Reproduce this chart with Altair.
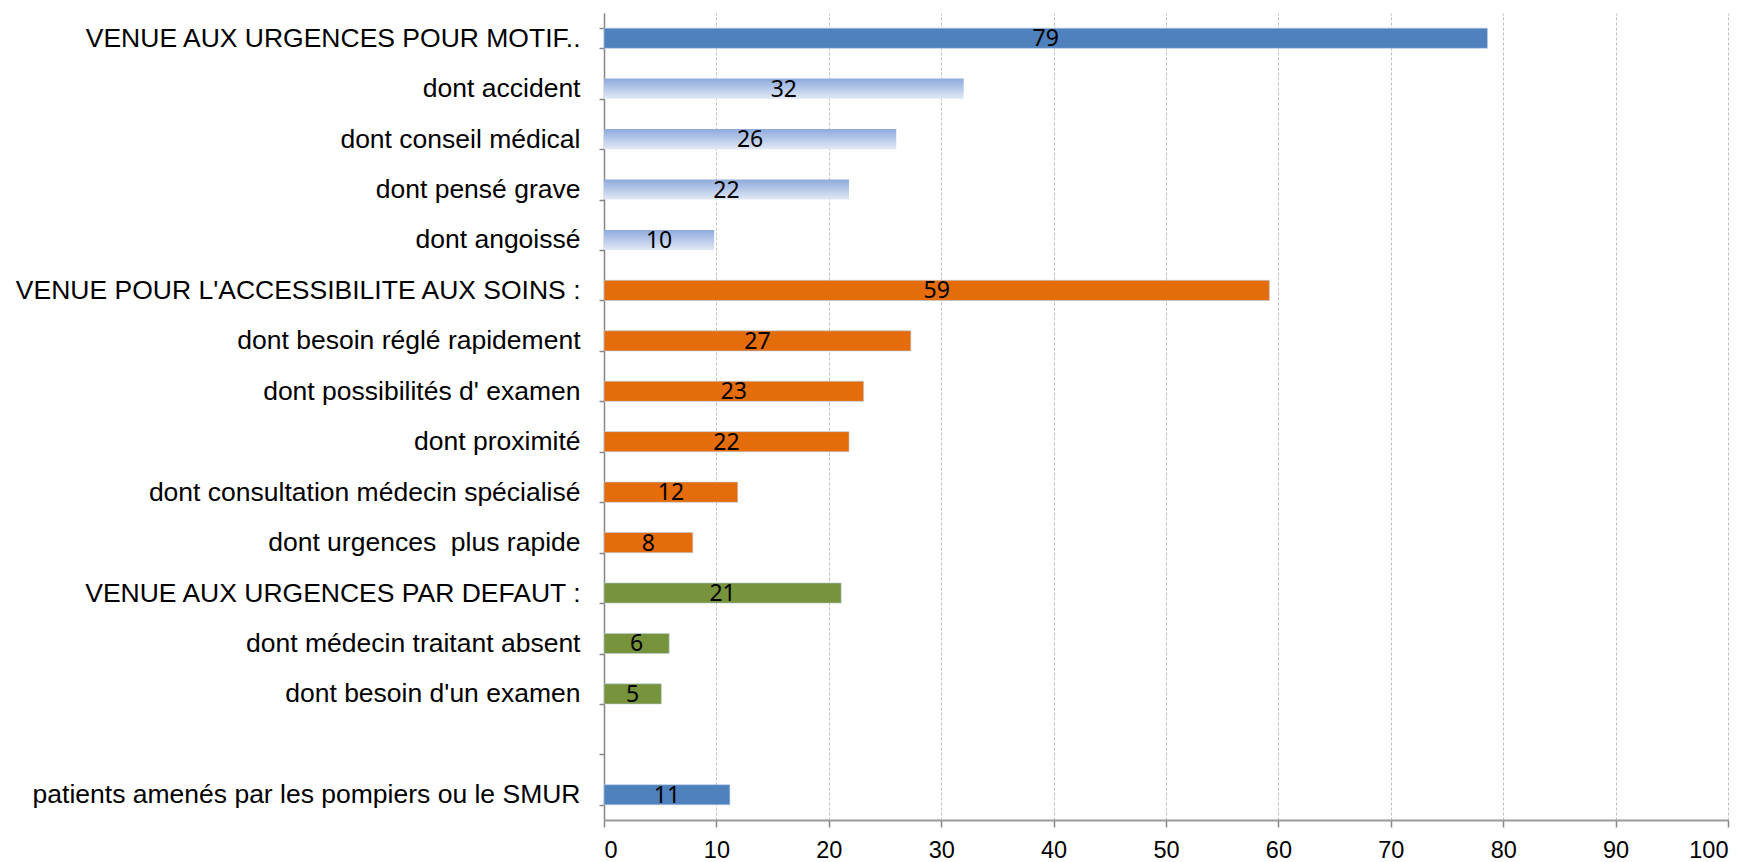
import altair as alt
import pandas as pd

categories = [
    "VENUE AUX URGENCES POUR MOTIF..",
    "dont accident",
    "dont conseil médical",
    "dont pensé grave",
    "dont angoissé",
    "VENUE POUR L'ACCESSIBILITE AUX SOINS :",
    "dont besoin réglé rapidement",
    "dont possibilités d' examen",
    "dont proximité",
    "dont consultation médecin spécialisé",
    "dont urgences\u00a0 plus rapide",
    "VENUE AUX URGENCES PAR DEFAUT :",
    "dont médecin traitant absent",
    "dont besoin d'un examen\u00a0\u00a0",
    " ",
    "patients amenés par les pompiers ou le SMUR",
]
values = [78.6, 32.0, 26.0, 21.8, 9.8, 59.2, 27.3, 23.1, 21.8, 11.9, 7.9, 21.1, 5.8, 5.1, None, 11.2]
groups = ["main", "light", "light", "light", "light",
          "orange", "orange", "orange", "orange", "orange", "orange",
          "green", "green", "green", "none", "main"]
x_ticks = [0, 10, 20, 30, 40, 50, 60, 70, 80, 90, 100]

df = pd.DataFrame({"cat": categories, "val": values, "grp": groups})
df["mid"] = df["val"] / 2

FONT = "Liberation Sans, Arial, sans-serif"

y_enc = alt.Y(
    "cat:N", sort=categories, title=None,
    scale=alt.Scale(domain=categories, paddingInner=0.6, paddingOuter=0.3),
    axis=alt.Axis(
        labelFont=FONT, labelFontSize=26.5, labelColor="#000000",
        labelPadding=19, labelLimit=700, tickBand="extent",
        tickSize=5, tickColor="#868686", tickWidth=1.5,
        domainColor="#868686", domainWidth=1.5, grid=False,
        minExtent=604,
    ),
)
x_enc = alt.X(
    "val:Q", title=None,
    scale=alt.Scale(domain=[0, 100], nice=False, zero=True),
    axis=alt.Axis(
        values=x_ticks, labelFont=FONT, labelFontSize=23.5, labelColor="#000000",
        labelPadding=11, tickSize=7, tickColor="#868686", tickWidth=1.5,
        domainColor="#9a9a9a", domainWidth=2,
        grid=True, gridColor="#c0c0c0", gridDash=[3, 2], gridWidth=1,
    ),
)

solid = alt.Chart(df).transform_filter(
    "datum.grp != 'light' && datum.grp != 'none'"
).mark_bar(stroke="#b9cde5", strokeWidth=0.6).encode(
    y=y_enc, x=x_enc,
    color=alt.Color("grp:N", legend=None,
                    scale=alt.Scale(domain=["main", "orange", "green"],
                                    range=["#4f81bd", "#e46c0a", "#77933c"])),
)

light = alt.Chart(df).transform_filter("datum.grp == 'light'").mark_bar(
    color=alt.Gradient(
        gradient="linear", x1=0, x2=0, y1=0, y2=1,
        stops=[alt.GradientStop(color="#8eaadb", offset=0),
               alt.GradientStop(color="#b7c9ea", offset=0.5),
               alt.GradientStop(color="#e2e9f6", offset=1)],
    )
).encode(y=y_enc, x=x_enc)

labels = alt.Chart(df).transform_filter("datum.val != null").mark_text(
    font="Noto Sans, DejaVu Sans, sans-serif", fontSize=23, color="#000000",
    baseline="middle", align="center", dy=1,
).encode(
    y=alt.Y("cat:N", sort=categories),
    x=alt.X("mid:Q"),
    text=alt.Text("val:Q", format=".0f"),
)

chart = alt.layer(light, solid, labels).properties(
    width=1124, height=807,
    padding={"left": 0, "top": 0, "right": 8, "bottom": 0},
    background="#ffffff",
).configure_view(stroke=None)

chart.save("out.html", embed_options={"renderer": "svg", "actions": False})
